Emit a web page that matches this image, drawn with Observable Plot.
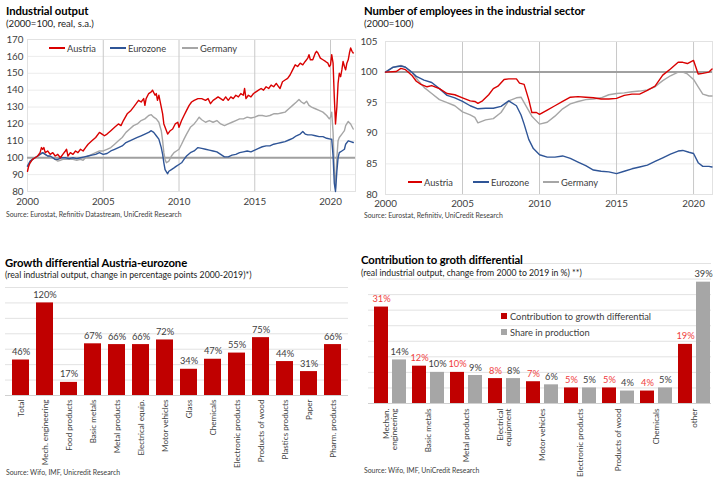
<!DOCTYPE html>
<html><head><meta charset="utf-8">
<script src="https://cdn.jsdelivr.net/npm/d3@7"></script>
<script src="https://cdn.jsdelivr.net/npm/@observablehq/plot@0.6"></script>
<style>
body{margin:0;background:#fff;}
#root{position:relative;width:717px;height:484px;overflow:hidden;font-family:Lato,sans-serif;color:#404040;background:#fff}
.abs{position:absolute;white-space:nowrap;line-height:1}
.title{font-weight:bold;font-size:11.3px;color:#000;letter-spacing:-0.1px}
.sub{font-size:8.7px;color:#222}
.sub2{font-size:9.6px;color:#222}
.src{font-size:6.9px;color:#404040}
.leg{position:absolute;display:flex;align-items:center;height:12px;font-size:9.3px;color:#404040;white-space:nowrap}
.leg .ln{display:inline-block;height:2px;margin-right:2px}
.leg .sq{display:inline-block;width:6px;height:6px;margin-right:3px}
.plot{position:absolute}
</style></head>
<body><div id="root"></div>
<script>
// ---------- DATA ----------
const yearTicks = [2000, 2005, 2010, 2015, 2020];
const ioTicks = [80, 90, 100, 110, 120, 130, 140, 150, 160, 170];
const empTicks = [80, 85, 90, 95, 100, 105];

const ioAustria = [[2000.00,92],[2000.08,95],[2000.17,97],[2000.33,99],[2000.5,100],[2000.67,101],[2000.83,103],[2000.92,106],[2001.0,105],[2001.08,106],[2001.17,103],[2001.33,104],[2001.5,102],[2001.67,103],[2001.83,101],[2002.0,102],[2002.17,100],[2002.33,102],[2002.5,104],[2002.58,105],[2002.67,101],[2002.83,103],[2003.0,102],[2003.17,104],[2003.33,103],[2003.5,105],[2003.67,104],[2003.83,106],[2004.0,108],[2004.25,110],[2004.5,112],[2004.75,115],[2004.92,114],[2005.08,113],[2005.25,114],[2005.5,116],[2005.75,118],[2006.0,120],[2006.17,119],[2006.33,122],[2006.58,126],[2006.83,128],[2007.0,130],[2007.17,132],[2007.33,134],[2007.5,133],[2007.67,135],[2007.75,131],[2007.83,135],[2008.0,138],[2008.17,139],[2008.25,140],[2008.42,137],[2008.5,138],[2008.58,134],[2008.67,137],[2008.83,130],[2008.92,126],[2009.0,120],[2009.17,116],[2009.25,114],[2009.42,116],[2009.58,117],[2009.75,120],[2009.92,121],[2010.0,118],[2010.17,122],[2010.33,125],[2010.5,128],[2010.67,131],[2010.83,133],[2011.0,134],[2011.25,135],[2011.5,135],[2011.75,134],[2011.92,135],[2012.08,132],[2012.25,134],[2012.42,135],[2012.58,136],[2012.75,135],[2012.92,134],[2013.08,136],[2013.25,134],[2013.42,136],[2013.58,135],[2013.75,137],[2013.92,136],[2014.08,138],[2014.25,137],[2014.33,141],[2014.42,135],[2014.58,137],[2014.75,136],[2014.92,138],[2015.08,139],[2015.25,140],[2015.42,141],[2015.58,140],[2015.75,142],[2015.92,141],[2016.08,143],[2016.25,142],[2016.42,144],[2016.58,142],[2016.67,141],[2016.83,145],[2017.0,146],[2017.17,147],[2017.33,149],[2017.5,152],[2017.67,155],[2017.83,154],[2018.0,156],[2018.17,155],[2018.33,157],[2018.5,159],[2018.58,161],[2018.67,158],[2018.83,158],[2019.0,162],[2019.08,163],[2019.17,162],[2019.33,159],[2019.5,158],[2019.67,157],[2019.83,156],[2019.92,154],[2020.0,155],[2020.08,161],[2020.17,156],[2020.25,136],[2020.33,120],[2020.42,130],[2020.5,144],[2020.58,150],[2020.67,148],[2020.75,152],[2020.83,157],[2020.92,154],[2021.0,152],[2021.08,156],[2021.17,158],[2021.25,162],[2021.33,165],[2021.42,163],[2021.5,162]];

const ioEurozone = [[2000.0,95],[2000.17,98],[2000.33,99],[2000.5,100],[2000.67,101],[2000.83,102],[2001.0,103],[2001.17,102],[2001.33,101],[2001.5,101],[2001.67,100],[2001.83,99],[2002.0,99],[2002.25,100],[2002.5,100],[2002.75,99.5],[2003.0,100],[2003.25,99.5],[2003.5,100],[2003.75,100.5],[2004.0,101],[2004.25,101.5],[2004.5,102],[2004.75,103],[2005.0,102],[2005.25,102.5],[2005.5,104],[2005.75,105],[2006.0,106],[2006.25,107],[2006.5,109],[2006.75,110],[2007.0,111],[2007.25,112],[2007.5,113],[2007.75,114],[2008.0,115],[2008.17,116],[2008.33,115],[2008.5,113],[2008.67,111],[2008.83,106],[2008.92,102],[2009.0,97],[2009.08,93],[2009.25,90.5],[2009.33,92],[2009.5,93],[2009.67,94],[2009.83,95],[2010.0,96],[2010.17,97],[2010.33,99],[2010.5,101],[2010.75,103],[2011.0,104],[2011.25,106],[2011.5,105.5],[2011.75,105],[2012.0,104.5],[2012.25,104],[2012.5,103.5],[2012.75,102],[2013.0,100.5],[2013.25,100.5],[2013.5,101.5],[2013.75,102],[2014.0,103],[2014.25,103.5],[2014.5,104],[2014.75,103.5],[2015.0,104.5],[2015.25,105.5],[2015.5,106.5],[2015.75,107],[2016.0,107],[2016.25,108],[2016.5,108.5],[2016.75,109],[2017.0,109.5],[2017.25,110.5],[2017.5,111.5],[2017.75,113],[2018.0,114],[2018.17,115.5],[2018.33,114],[2018.5,113.5],[2018.75,113.5],[2019.0,113],[2019.25,112.5],[2019.5,112.5],[2019.75,111.5],[2020.0,111],[2020.08,111],[2020.17,101],[2020.25,85],[2020.33,80],[2020.42,92],[2020.5,100],[2020.58,103],[2020.75,104],[2020.92,105],[2021.0,108],[2021.17,110],[2021.33,109.5],[2021.5,109]];

const ioGermany = [[2000.0,95],[2000.17,97],[2000.33,99],[2000.5,100],[2000.67,101],[2000.83,102],[2001.0,103],[2001.17,102],[2001.33,101],[2001.5,100.5],[2001.67,100],[2001.83,99],[2002.0,98],[2002.17,98.5],[2002.33,99],[2002.5,99],[2002.75,99],[2003.0,99],[2003.25,98.5],[2003.5,99],[2003.67,98.5],[2003.83,100],[2004.0,101],[2004.25,102],[2004.5,103],[2004.75,104],[2005.0,104],[2005.25,105],[2005.5,106],[2005.75,108],[2006.0,110],[2006.25,112],[2006.5,115],[2006.75,117],[2007.0,119],[2007.25,120],[2007.5,122],[2007.75,123],[2008.0,125],[2008.17,125.5],[2008.33,124],[2008.5,123],[2008.67,121],[2008.83,116],[2008.92,110],[2009.0,103],[2009.08,99],[2009.17,97],[2009.33,98],[2009.5,101],[2009.67,103],[2009.83,104],[2010.0,105],[2010.17,108],[2010.33,111],[2010.5,114],[2010.75,118],[2011.0,120],[2011.17,122],[2011.33,124],[2011.5,122.5],[2011.75,121],[2012.0,122],[2012.25,121],[2012.5,122],[2012.75,120],[2013.0,119],[2013.25,120],[2013.5,121],[2013.75,122],[2014.0,123],[2014.25,123],[2014.5,124],[2014.75,123.5],[2015.0,124],[2015.25,125],[2015.5,125],[2015.75,124.5],[2016.0,125],[2016.25,126],[2016.5,126],[2016.75,126.5],[2017.0,127],[2017.25,129],[2017.5,131],[2017.75,133],[2017.92,134.5],[2018.08,133],[2018.25,132],[2018.42,133.5],[2018.58,131],[2018.75,130],[2019.0,129],[2019.25,128],[2019.5,127],[2019.75,125],[2019.92,123],[2020.0,124],[2020.08,127],[2020.17,115],[2020.25,93],[2020.33,82],[2020.42,100],[2020.5,110],[2020.58,112],[2020.75,114],[2020.92,116],[2021.0,119],[2021.17,121.5],[2021.33,120],[2021.5,117]];

const empAustria = [[2000.0,100],[2000.7,100.1],[2001.0,100.6],[2001.3,100.4],[2001.7,99.5],[2002.0,98.5],[2002.3,98],[2002.7,97.6],[2003.0,97.8],[2003.5,97.3],[2004.0,96.5],[2004.5,96.3],[2005.0,95.8],[2005.5,95.3],[2005.8,95.2],[2006.0,94.9],[2006.3,95.3],[2006.7,96.3],[2007.0,97.3],[2007.3,97.7],[2007.7,98.8],[2008.0,98.9],[2008.5,98.9],[2008.7,98.2],[2009.0,98.0],[2009.3,95.5],[2009.5,93.4],[2009.8,93.4],[2010.0,93.1],[2010.5,93.8],[2011.0,94.5],[2011.5,95.2],[2012.0,95.9],[2012.5,96.0],[2013.0,95.9],[2013.5,95.8],[2014.0,95.6],[2014.5,95.6],[2015.0,95.7],[2015.5,96.2],[2016.0,96.4],[2016.5,96.4],[2017.0,97.0],[2017.5,97.7],[2018.0,99.5],[2018.5,100.5],[2019.0,101.6],[2019.3,101.6],[2019.6,101.4],[2020.0,101.9],[2020.3,99.7],[2020.6,99.8],[2021.0,100.0],[2021.2,100.5]];

const empEurozone = [[2000.0,100],[2000.5,100.8],[2001.0,101.0],[2001.3,100.8],[2001.7,100.0],[2002.0,99.3],[2002.5,98.7],[2003.0,98.3],[2003.5,97.3],[2004.0,96.2],[2004.5,95.8],[2005.0,95.2],[2005.5,94.5],[2006.0,94.0],[2006.5,94.1],[2007.0,94.1],[2007.5,94.4],[2008.0,95.3],[2008.5,94.5],[2008.8,93.0],[2009.0,91.5],[2009.3,89.0],[2009.6,87.5],[2010.0,86.5],[2010.5,86.1],[2011.0,86.1],[2011.5,86.3],[2012.0,85.9],[2012.5,85.3],[2013.0,84.7],[2013.5,84.0],[2014.0,83.8],[2014.5,83.7],[2015.0,83.4],[2015.5,83.8],[2016.0,84.2],[2016.5,84.5],[2017.0,84.8],[2017.5,85.4],[2018.0,86.0],[2018.5,86.6],[2019.0,87.1],[2019.3,87.2],[2019.7,86.9],[2020.0,86.7],[2020.3,85.2],[2020.6,84.6],[2021.0,84.6],[2021.2,84.5]];

const empGermany = [[2000.0,100],[2000.5,100.8],[2001.0,101.1],[2001.3,100.8],[2001.7,100.0],[2002.0,99.0],[2002.5,97.5],[2003.0,96.5],[2003.5,95.5],[2004.0,95.0],[2004.5,94.5],[2005.0,93.5],[2005.5,93.0],[2005.8,92.6],[2006.0,91.7],[2006.5,92.2],[2007.0,92.4],[2007.5,93.4],[2008.0,95.3],[2008.5,95.8],[2008.8,95.9],[2009.0,95.0],[2009.5,92.8],[2010.0,91.5],[2010.5,91.8],[2011.0,92.8],[2011.5,94.0],[2012.0,94.8],[2012.5,95.2],[2013.0,95.5],[2013.5,95.6],[2014.0,95.8],[2014.5,96.3],[2015.0,96.5],[2015.5,96.6],[2016.0,96.8],[2016.5,96.9],[2017.0,97.1],[2017.5,97.6],[2018.0,98.6],[2018.5,99.4],[2019.0,100.0],[2019.3,100.0],[2019.6,99.7],[2020.0,98.8],[2020.3,97.6],[2020.6,96.4],[2021.0,96.1],[2021.2,96.1]];

const gdCategories = ["Total","Mech. engineering","Food products","Basic metals","Metal products","Electrical equip.","Motor vehicles","Glass","Chemicals","Electronic products","Products of wood","Plastics products","Paper","Pharm. products"];
const gdValues = [46,120,17,67,66,66,72,34,47,55,75,44,31,66];
const gdTicks = [0,20,40,60,80,100,120,140];

const ctCategories = ["Mechan.\nengineering","Basic metals","Metal products","Electrical\nequipment","Motor vehicles","Electronic products","Products of wood","Chemicals","other"];
const ctContribution = [31,12,10,8,7,5,5,4,19];
const ctShare = [14,10,9,8,6,5,4,5,39];
const ctTicks = [0,5,10,15,20,25,30,35,40,45];

// ---------- COLORS ----------
const cAT = "#d90000", cEZ = "#2f5597", cDE = "#a6a6a6";
const cBarRed = "#c00000", cBarGray = "#a6a6a6";

const root = document.getElementById("root");
function addDiv(cls, text, x, y, extra) {
  const d = document.createElement("div");
  d.className = "abs " + cls; d.textContent = text;
  d.style.left = x + "px"; d.style.top = y + "px";
  if (extra) Object.assign(d.style, extra);
  root.appendChild(d); return d;
}
function addPlot(svg, x, y) {
  const w = document.createElement("div");
  w.className = "plot"; w.style.left = x + "px"; w.style.top = y + "px";
  w.appendChild(svg); root.appendChild(w);
}
function legLine(x, yc, w, color, label) {
  const d = document.createElement("div");
  d.className = "leg"; d.style.left = x + "px"; d.style.top = (yc - 6) + "px";
  d.innerHTML = `<span class="ln" style="width:${w}px;background:${color}"></span>${label}`;
  root.appendChild(d);
}
function legSq(x, yc, color, label) {
  const d = document.createElement("div");
  d.className = "leg"; d.style.left = x + "px"; d.style.top = (yc - 6) + "px";
  d.innerHTML = `<span class="sq" style="background:${color}"></span>${label}`;
  root.appendChild(d);
}
const baseStyle = {fontFamily: "Lato, sans-serif", fontSize: "9.8px", color: "#404040", background: "transparent", overflow: "visible"};
const xy = {x: d => d[0], y: d => d[1]};

// ---------- PANEL 1 ----------
addPlot(Plot.plot({
  width: 360, height: 180, marginLeft: 27, marginRight: 5, marginTop: 7, marginBottom: 21,
  style: baseStyle,
  x: {domain: [2000, 2021.65], ticks: yearTicks, tickFormat: d => String(d), tickSize: 0, tickPadding: 7, label: null},
  y: {domain: [80, 170], ticks: ioTicks, tickSize: 0, tickPadding: 4, label: null},
  marks: [
    Plot.ruleY(ioTicks, {stroke: "#ececec"}),
    Plot.ruleX(yearTicks.slice(1), {stroke: "#c8c8c8"}),
    Plot.frame({stroke: "#e2e2e2"}),
    Plot.ruleY([100], {stroke: "#a0a0a0", strokeWidth: 2}),
    Plot.line(ioGermany, {...xy, stroke: cDE, strokeWidth: 1.4}),
    Plot.line(ioEurozone, {...xy, stroke: cEZ, strokeWidth: 1.4}),
    Plot.line(ioAustria, {...xy, stroke: cAT, strokeWidth: 1.4})
  ]
}), 0, 32);

// ---------- PANEL 2 ----------
addPlot(Plot.plot({
  width: 359, height: 181, marginLeft: 27, marginRight: 5, marginTop: 7, marginBottom: 21,
  style: baseStyle,
  x: {domain: [2000, 2021.23], ticks: yearTicks, tickFormat: d => String(d), tickSize: 0, tickPadding: 6, label: null},
  y: {domain: [80, 105], ticks: empTicks, tickSize: 0, tickPadding: 8, label: null},
  marks: [
    Plot.ruleY(empTicks, {stroke: "#ececec"}),
    Plot.ruleX(yearTicks.slice(1), {stroke: "#c8c8c8"}),
    Plot.frame({stroke: "#e2e2e2"}),
    Plot.ruleY([100], {stroke: "#a0a0a0", strokeWidth: 2}),
    Plot.line(empGermany, {...xy, stroke: cDE, strokeWidth: 1.4}),
    Plot.line(empEurozone, {...xy, stroke: cEZ, strokeWidth: 1.4}),
    Plot.line(empAustria, {...xy, stroke: cAT, strokeWidth: 1.4})
  ]
}), 358, 34);

// ---------- PANEL 3 ----------
const gdData = gdCategories.map((c, i) => ({c, v: gdValues[i]}));
addPlot(Plot.plot({
  width: 360, height: 190, marginLeft: 5, marginRight: 12, marginTop: 5, marginBottom: 77,
  style: {...baseStyle, fontSize: "8.1px"},
  x: {domain: gdCategories, paddingInner: 0.31, paddingOuter: 0.1, tickRotate: -90, tickSize: 0, tickPadding: 4, label: null},
  y: {domain: [0, 140], axis: null},
  marks: [
    Plot.ruleY(gdTicks, {stroke: "#e2e2e2"}),
    Plot.barY(gdData, {x: "c", y: "v", fill: cBarRed}),
    Plot.ruleY([0], {stroke: "#d0d0d0"}),
    Plot.text(gdData, {x: "c", y: "v", text: d => d.v + "%", dy: -5, lineAnchor: "bottom", fontSize: 9.3, fill: "#404040"})
  ]
}), 0, 282);

// ---------- PANEL 4 ----------
const ctData = ctCategories.map((c, i) => ({c, a: ctContribution[i], b: ctShare[i]}));
addPlot(Plot.plot({
  width: 359, height: 210, marginLeft: 10, marginRight: 6, marginTop: 8, marginBottom: 62,
  style: {...baseStyle, fontSize: "8.1px"},
  x: {domain: ctCategories, paddingInner: 0.163, paddingOuter: 0.065, align: 0.8, tickRotate: -90, tickSize: 0, tickPadding: 5, label: null},
  y: {domain: [0, 45], axis: null},
  marks: [
    Plot.ruleY(ctTicks, {stroke: "#e2e2e2"}),
    Plot.barY(ctData, {x: "c", y: "a", fill: cBarRed, insetRight: 18}),
    Plot.barY(ctData, {x: "c", y: "b", fill: cBarGray, insetLeft: 18}),
    Plot.ruleY([0], {stroke: "#d0d0d0"}),
    Plot.text(ctData, {x: "c", y: "a", text: d => d.a + "%", dx: -9, dy: -5, lineAnchor: "bottom", fontSize: 9.3, fill: "#f03c3c"}),
    Plot.text(ctData, {x: "c", y: "b", text: d => d.b + "%", dx: 9, dy: -5, lineAnchor: "bottom", fontSize: 9.3, fill: "#404040"})
  ]
}), 358, 255);

// ---------- TEXTS ----------
addDiv("title", "Industrial output", 6, 5);
addDiv("sub2", "(2000=100, real, s.a.)", 6, 19);
addDiv("src", "Source: Eurostat, Refinitiv Datastream, UniCredit Research", 6, 211);
legLine(49, 48, 16, cAT, "Austria");
legLine(110, 48, 16, cEZ, "Eurozone");
legLine(182, 48, 16, cDE, "Germany");

addDiv("title", "Number of employees in the industrial sector", 364, 5);
addDiv("sub2", "(2000=100)", 364, 19);
addDiv("src", "Source: Eurostat, Refinitiv, UniCredit Research", 364, 212);
legLine(408, 182, 14, cAT, "Austria");
legLine(473, 182, 16, cEZ, "Eurozone");
legLine(543, 182, 16, cDE, "Germany");

addDiv("title", "Growth differential Austria-eurozone", 5, 257);
addDiv("sub", "(real industrial output, change in percentage points 2000-2019)*)", 5, 271);
addDiv("src", "Source: Wifo, IMF, Unicredit Research", 6, 469);

addDiv("title", "Contribution to groth differential", 361, 254);
addDiv("sub", "(real industrial output, change from 2000 to 2019 in %) **)", 361, 269);
addDiv("src", "Source: Wifo, IMF, UniCredit Research", 364, 467);
legSq(501, 316, cBarRed, "Contribution to growth differential");
legSq(501, 332, cBarGray, "Share in production");
</script>
</body></html>
